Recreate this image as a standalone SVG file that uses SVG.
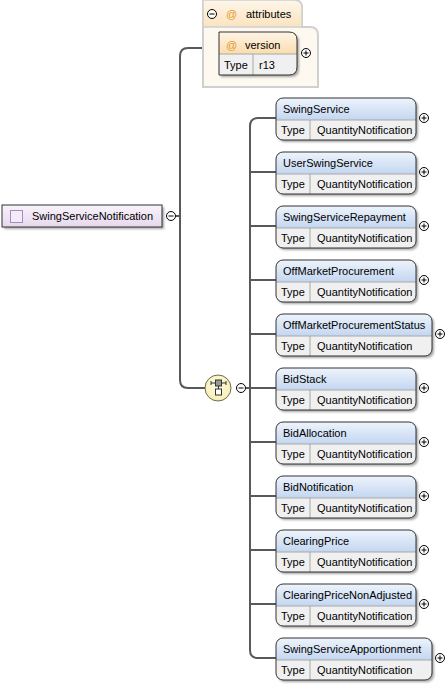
<svg xmlns="http://www.w3.org/2000/svg" width="448" height="684" viewBox="0 0 448 684">
<defs>
<linearGradient id="gBlue" x1="0" y1="0" x2="0" y2="1"><stop offset="0" stop-color="#eef4fc"/><stop offset="1" stop-color="#c3d6f0"/></linearGradient>
<linearGradient id="gOrange" x1="0" y1="0" x2="0" y2="1"><stop offset="0" stop-color="#fef5e6"/><stop offset="1" stop-color="#fbdcae"/></linearGradient>
<linearGradient id="gTab" x1="0" y1="0" x2="0" y2="1"><stop offset="0" stop-color="#fef6ea"/><stop offset="1" stop-color="#fbe3bf"/></linearGradient>
<linearGradient id="gRoot" x1="0" y1="0" x2="0" y2="1"><stop offset="0" stop-color="#f8f3fa"/><stop offset="1" stop-color="#e6d8ee"/></linearGradient>
<radialGradient id="gSeq" cx="0.45" cy="0.4" r="0.65"><stop offset="0" stop-color="#fefbe2"/><stop offset="1" stop-color="#f6eeb0"/></radialGradient>
<filter id="sh" x="-10%" y="-10%" width="130%" height="140%"><feDropShadow dx="2" dy="2" stdDeviation="1" flood-color="#808080" flood-opacity="0.7"/></filter>
<g id="plus"><circle r="4.5" fill="#fff" stroke="#000" stroke-width="1"/><path d="M-2.5,0H2.5M0,-2.5V2.5" stroke="#000" stroke-width="1"/></g>
<g id="minus"><circle r="4.5" fill="#fff" stroke="#000" stroke-width="1"/><path d="M-2.5,0H2.5" stroke="#000" stroke-width="1"/></g>
</defs>
<style>
text{font-family:"Liberation Sans",Arial,sans-serif;font-size:11px;fill:#000}
.at{fill:#e39a2a}
.ln{fill:none;stroke:#595959;stroke-width:2}
.bd{fill:none;stroke:#333;stroke-width:1}
.tr{fill:#f0f0f0}
.dv{stroke:#a8a8a8;stroke-width:1;fill:none}
</style>

<g id="connectors">
<path class="ln" d="M175.5,216H180"/>
<path class="ln" d="M203,48H188Q180,48 180,56V380Q180,388 188,388H205"/>
<path class="ln" d="M245.5,388H250"/>
<path class="ln" d="M276,118H258Q250,118 250,126V650Q250,658 258,658H276"/>
<path class="ln" d="M250,172H276M250,226H276M250,280H276M250,334H276M250,388H276M250,442H276M250,496H276M250,550H276M250,604H276"/>
</g>

<g id="root">
<rect x="2" y="205" width="160" height="22" fill="url(#gRoot)" filter="url(#sh)"/>
<rect x="2" y="205" width="160" height="22" class="bd"/>
<rect x="10.5" y="210.5" width="12" height="12" fill="#f3ecf7" stroke="#a98bc0"/>
<text x="32" y="220">SwingServiceNotification</text>
<use href="#minus" x="171" y="216"/>
</g>

<g id="attributes">
<path d="M203,0H294Q302,0 302,8V27H310Q318,27 318,35V87H203Z" fill="#fdf8f0" stroke="#d0d0d0" stroke-width="2"/>
<path d="M203,0H294Q302,0 302,8V27H203Z" fill="url(#gTab)" stroke="#d0d0d0" stroke-width="1.5"/>
<use href="#minus" x="212" y="14"/>
<text class="at" x="226" y="18">@</text>
<text x="246" y="18">attributes</text>
</g>

<g id="version">
<path d="M219,32H289Q297,32 297,40V67Q297,75 289,75H219Z" fill="#f0f0f0" filter="url(#sh)"/>
<path d="M219,54V32H289Q297,32 297,40V54Z" fill="url(#gOrange)"/>
<path d="M219,54H297M253,54V75" class="dv"/>
<path d="M219,32H289Q297,32 297,40V67Q297,75 289,75H219Z" class="bd"/>
<text class="at" x="226" y="49">@</text>
<text x="245" y="49">version</text>
<text x="224" y="69">Type</text>
<text x="259" y="69">r13</text>
<use href="#plus" x="306" y="53"/>
</g>

<g id="sequence">
<circle cx="218" cy="388" r="13" fill="url(#gSeq)" stroke="#6e6a4e" stroke-width="1"/>
<path d="M211,383H226M211,381V385M226,381V385M218.5,386V389" stroke="#333" stroke-width="1" fill="none"/>
<rect x="215.5" y="380" width="6" height="6" fill="#999" stroke="#333"/>
<rect x="215.5" y="389" width="6" height="6" fill="#fff" stroke="#333"/>
<use href="#minus" x="241" y="388"/>
</g>

<g id="SwingService" transform="translate(0,98)">
<rect x="276" y="0" width="140" height="42" rx="7" class="tr" filter="url(#sh)"/>
<path d="M276,22V7Q276,0 283,0H409Q416,0 416,7V22Z" fill="url(#gBlue)"/>
<path d="M276,22H416M310,22V42" class="dv"/>
<rect x="276" y="0" width="140" height="42" rx="7" class="bd"/>
<text x="283" y="15">SwingService</text><text x="281" y="36">Type</text><text x="317" y="36">QuantityNotification</text>
<use href="#plus" x="424" y="20"/>
</g>

<g id="UserSwingService" transform="translate(0,152)">
<rect x="276" y="0" width="140" height="42" rx="7" class="tr" filter="url(#sh)"/>
<path d="M276,22V7Q276,0 283,0H409Q416,0 416,7V22Z" fill="url(#gBlue)"/>
<path d="M276,22H416M310,22V42" class="dv"/>
<rect x="276" y="0" width="140" height="42" rx="7" class="bd"/>
<text x="283" y="15">UserSwingService</text><text x="281" y="36">Type</text><text x="317" y="36">QuantityNotification</text>
<use href="#plus" x="424" y="20"/>
</g>

<g id="SwingServiceRepayment" transform="translate(0,206)">
<rect x="276" y="0" width="140" height="42" rx="7" class="tr" filter="url(#sh)"/>
<path d="M276,22V7Q276,0 283,0H409Q416,0 416,7V22Z" fill="url(#gBlue)"/>
<path d="M276,22H416M310,22V42" class="dv"/>
<rect x="276" y="0" width="140" height="42" rx="7" class="bd"/>
<text x="283" y="15">SwingServiceRepayment</text><text x="281" y="36">Type</text><text x="317" y="36">QuantityNotification</text>
<use href="#plus" x="424" y="20"/>
</g>

<g id="OffMarketProcurement" transform="translate(0,260)">
<rect x="276" y="0" width="140" height="42" rx="7" class="tr" filter="url(#sh)"/>
<path d="M276,22V7Q276,0 283,0H409Q416,0 416,7V22Z" fill="url(#gBlue)"/>
<path d="M276,22H416M310,22V42" class="dv"/>
<rect x="276" y="0" width="140" height="42" rx="7" class="bd"/>
<text x="283" y="15">OffMarketProcurement</text><text x="281" y="36">Type</text><text x="317" y="36">QuantityNotification</text>
<use href="#plus" x="424" y="20"/>
</g>

<g id="OffMarketProcurementStatus" transform="translate(0,314)">
<rect x="276" y="0" width="156" height="42" rx="7" class="tr" filter="url(#sh)"/>
<path d="M276,22V7Q276,0 283,0H425Q432,0 432,7V22Z" fill="url(#gBlue)"/>
<path d="M276,22H432M310,22V42" class="dv"/>
<rect x="276" y="0" width="156" height="42" rx="7" class="bd"/>
<text x="283" y="15">OffMarketProcurementStatus</text><text x="281" y="36">Type</text><text x="317" y="36">QuantityNotification</text>
<use href="#plus" x="440" y="20"/>
</g>

<g id="BidStack" transform="translate(0,368)">
<rect x="276" y="0" width="140" height="42" rx="7" class="tr" filter="url(#sh)"/>
<path d="M276,22V7Q276,0 283,0H409Q416,0 416,7V22Z" fill="url(#gBlue)"/>
<path d="M276,22H416M310,22V42" class="dv"/>
<rect x="276" y="0" width="140" height="42" rx="7" class="bd"/>
<text x="283" y="15">BidStack</text><text x="281" y="36">Type</text><text x="317" y="36">QuantityNotification</text>
<use href="#plus" x="424" y="20"/>
</g>

<g id="BidAllocation" transform="translate(0,422)">
<rect x="276" y="0" width="140" height="42" rx="7" class="tr" filter="url(#sh)"/>
<path d="M276,22V7Q276,0 283,0H409Q416,0 416,7V22Z" fill="url(#gBlue)"/>
<path d="M276,22H416M310,22V42" class="dv"/>
<rect x="276" y="0" width="140" height="42" rx="7" class="bd"/>
<text x="283" y="15">BidAllocation</text><text x="281" y="36">Type</text><text x="317" y="36">QuantityNotification</text>
<use href="#plus" x="424" y="20"/>
</g>

<g id="BidNotification" transform="translate(0,476)">
<rect x="276" y="0" width="140" height="42" rx="7" class="tr" filter="url(#sh)"/>
<path d="M276,22V7Q276,0 283,0H409Q416,0 416,7V22Z" fill="url(#gBlue)"/>
<path d="M276,22H416M310,22V42" class="dv"/>
<rect x="276" y="0" width="140" height="42" rx="7" class="bd"/>
<text x="283" y="15">BidNotification</text><text x="281" y="36">Type</text><text x="317" y="36">QuantityNotification</text>
<use href="#plus" x="424" y="20"/>
</g>

<g id="ClearingPrice" transform="translate(0,530)">
<rect x="276" y="0" width="140" height="42" rx="7" class="tr" filter="url(#sh)"/>
<path d="M276,22V7Q276,0 283,0H409Q416,0 416,7V22Z" fill="url(#gBlue)"/>
<path d="M276,22H416M310,22V42" class="dv"/>
<rect x="276" y="0" width="140" height="42" rx="7" class="bd"/>
<text x="283" y="15">ClearingPrice</text><text x="281" y="36">Type</text><text x="317" y="36">QuantityNotification</text>
<use href="#plus" x="424" y="20"/>
</g>

<g id="ClearingPriceNonAdjusted" transform="translate(0,584)">
<rect x="276" y="0" width="140" height="42" rx="7" class="tr" filter="url(#sh)"/>
<path d="M276,22V7Q276,0 283,0H409Q416,0 416,7V22Z" fill="url(#gBlue)"/>
<path d="M276,22H416M310,22V42" class="dv"/>
<rect x="276" y="0" width="140" height="42" rx="7" class="bd"/>
<text x="283" y="15">ClearingPriceNonAdjusted</text><text x="281" y="36">Type</text><text x="317" y="36">QuantityNotification</text>
<use href="#plus" x="424" y="20"/>
</g>

<g id="SwingServiceApportionment" transform="translate(0,638)">
<rect x="276" y="0" width="156" height="42" rx="7" class="tr" filter="url(#sh)"/>
<path d="M276,22V7Q276,0 283,0H425Q432,0 432,7V22Z" fill="url(#gBlue)"/>
<path d="M276,22H432M310,22V42" class="dv"/>
<rect x="276" y="0" width="156" height="42" rx="7" class="bd"/>
<text x="283" y="15">SwingServiceApportionment</text><text x="281" y="36">Type</text><text x="317" y="36">QuantityNotification</text>
<use href="#plus" x="440" y="20"/>
</g>
</svg>
